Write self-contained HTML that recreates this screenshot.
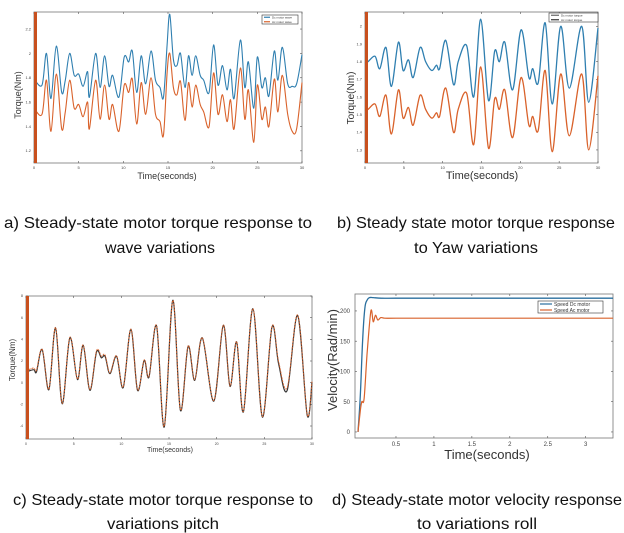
<!DOCTYPE html>
<html><head><meta charset="utf-8"><style>
html,body{margin:0;padding:0;background:#fff;}
svg{display:block;font-family:"Liberation Sans",sans-serif;}
</style></head><body>
<svg id="fig" width="624" height="533" viewBox="0 0 624 533">
<g id="pa"></g>
<g id="pb"></g>
<g id="pc"></g>
<g id="pd"></g>
<g font-size="16" fill="#111" text-anchor="middle">
<text x="158" y="228" textLength="308" lengthAdjust="spacingAndGlyphs">a) Steady-state motor torque response to</text>
<text x="160" y="253" textLength="110" lengthAdjust="spacingAndGlyphs">wave variations</text>
<text x="476" y="228" textLength="278" lengthAdjust="spacingAndGlyphs">b) Steady state motor torque response</text>
<text x="476" y="253" textLength="124" lengthAdjust="spacingAndGlyphs">to Yaw variations</text>
<text x="163" y="505" textLength="300" lengthAdjust="spacingAndGlyphs">c) Steady-state motor torque response to</text>
<text x="163" y="529" textLength="112" lengthAdjust="spacingAndGlyphs">variations pitch</text>
<text x="477" y="505" textLength="290" lengthAdjust="spacingAndGlyphs">d) Steady-state motor velocity response</text>
<text x="477" y="529" textLength="120" lengthAdjust="spacingAndGlyphs">to variations roll</text>
</g>
</svg>
<script>
// Panel a data
const aT=[0,0.9,1.4,1.9,2.5,3.1,3.5,4.0,4.5,5.0,5.5,6.0,6.2,6.9,7.4,7.9,8.4,8.8,9.5,10.1,10.6,11.0,11.5,12.0,12.5,13.1,13.6,14.1,14.5,14.9,15.2,15.6,16.0,16.4,16.9,17.3,17.7,18.1,18.6,19.0,19.6,20.1,20.6,21.1,21.6,22.0,22.4,23.1,23.6,24.0,24.6,25.0,25.5,25.9,26.3,26.9,27.3,27.8,28.4,28.9,29.4,30];
const aDc=[1.79,1.74,2.0,1.63,2.06,1.68,1.78,2.0,1.82,1.83,1.73,1.85,1.64,2.0,1.72,1.98,1.73,1.82,1.64,1.97,1.93,2.02,1.68,1.98,1.75,2.02,1.78,1.72,1.64,2.07,2.32,1.95,1.9,2.0,1.72,1.98,1.82,1.98,1.82,1.78,1.68,2.07,1.74,1.9,1.7,1.87,1.63,2.11,1.72,1.93,1.55,1.97,1.72,1.8,1.65,2.02,1.78,2.05,1.75,1.73,1.75,1.99];
const aAc=[1.55,1.5,1.78,1.36,1.83,1.38,1.52,1.78,1.55,1.58,1.48,1.6,1.38,1.78,1.46,1.74,1.46,1.58,1.36,1.74,1.68,1.79,1.42,1.76,1.5,1.8,1.5,1.44,1.33,1.84,2.0,1.72,1.66,1.77,1.45,1.76,1.56,1.74,1.58,1.52,1.4,1.84,1.5,1.66,1.44,1.62,1.38,1.88,1.46,1.7,1.27,1.74,1.46,1.56,1.4,1.79,1.52,1.82,1.5,1.36,1.38,1.76];
const aYTicks=[1.2,1.4,1.6,1.8,2,2.2];
const aXTicks=[0,5,10,15,20,25,30];
// Panel b data
const bT=[0,0.4,1.3,1.9,2.7,3.4,4.3,4.9,5.6,6.2,7.1,7.8,8.6,9.2,9.6,10.4,11.4,12.0,13.1,14.0,14.9,15.9,16.7,17.3,18.0,19.0,20.1,21.1,21.6,22.3,23.2,24.1,25.2,26.3,27.9,28.8,30];
const bDc=[1.79,1.80,1.83,1.76,1.88,1.66,1.91,1.75,1.81,1.71,1.88,1.80,1.75,1.78,1.76,1.92,1.67,1.80,1.89,1.60,2.04,1.58,1.86,1.80,1.91,1.64,1.98,1.71,1.76,1.68,2.02,1.56,2.0,1.65,2.0,1.57,1.99];
const bAc=[1.52,1.53,1.56,1.49,1.61,1.39,1.64,1.48,1.54,1.44,1.61,1.53,1.48,1.51,1.49,1.65,1.40,1.53,1.62,1.33,1.77,1.31,1.59,1.53,1.64,1.37,1.71,1.44,1.49,1.41,1.75,1.29,1.73,1.38,1.73,1.30,1.72];
const bYTicks=[1.3,1.4,1.5,1.6,1.7,1.8,1.9,2];
const bXTicks=[0,5,10,15,20,25,30];
// Panel c data
const cT=[0,0.8,1.1,1.7,2.4,3.1,3.8,4.6,5.4,6.0,6.7,7.4,7.9,8.3,8.8,9.5,10.2,11.0,11.7,12.4,12.9,13.7,14.5,15.4,16.2,17.0,17.7,18.5,19.7,20.7,21.4,22.1,22.8,23.8,24.8,25.8,26.5,27.4,28.5,29.5,30];
const cDc=[0.98,1.2,1.0,3.05,-0.65,5.05,-1.94,4.15,0.28,3.45,-0.7,2.83,2.3,2.43,0.83,2.43,-0.46,4.92,-0.7,2.06,0.52,5.23,-4.1,7.6,-2.55,3.35,0.22,4.12,-1.7,5.3,-0.34,3.75,-2.7,6.83,-3.17,5.14,1.75,-0.7,6.2,-3.0,0.06];
const cAc=[1.1,1.35,1.15,3.1,-0.6,5.1,-1.9,4.2,0.33,3.5,-0.65,2.95,2.45,2.55,0.9,2.5,-0.4,4.95,-0.65,2.1,0.57,5.27,-4.05,7.6,-2.5,3.4,0.27,4.15,-1.65,5.33,-0.3,3.8,-2.65,6.85,-3.12,5.2,1.95,-0.45,6.25,-2.95,0.1];
const cYTicks=[-4,-2,0,2,4,6,8];
const cXTicks=[0,5,10,15,20,25,30];
// Panel d data
const dT=[0,0.03,0.06,0.09,0.12,0.15,0.2,0.3,0.5,1,2,3,3.36];
const dDc=[0,60,150,205,218,222,222,221,221,221,221,221,221];
const dT2=[0,0.03,0.05,0.08,0.12,0.17,0.2,0.23,0.26,0.3,0.35,0.5,1,2,3,3.36];
const dAc=[0,35,50,55,130,200,182,193,185,189,188,188,188,188,188,188];
const dYTicks=[0,50,100,150,200];
const dXTicks=[0.5,1,1.5,2,2.5,3];

const NS='http://www.w3.org/2000/svg';
function mk(parent,tag,attrs){const e=document.createElementNS(NS,tag);for(const k in attrs)e.setAttribute(k,attrs[k]);parent.appendChild(e);return e;}
function smooth(pts){let d='M'+pts[0][0].toFixed(1)+','+pts[0][1].toFixed(1);
 for(let i=0;i<pts.length-1;i++){const p0=pts[Math.max(i-1,0)],p1=pts[i],p2=pts[i+1],p3=pts[Math.min(i+2,pts.length-1)];
 const c1=[p1[0]+(p2[0]-p0[0])/6,p1[1]+(p2[1]-p0[1])/6],c2=[p2[0]-(p3[0]-p1[0])/6,p2[1]-(p3[1]-p1[1])/6];
 d+='C'+c1[0].toFixed(1)+','+c1[1].toFixed(1)+' '+c2[0].toFixed(1)+','+c2[1].toFixed(1)+' '+p2[0].toFixed(1)+','+p2[1].toFixed(1);}
 return d;}
function panel(g,cfg){
 const {x0,x1,y0,y1,xmin,xmax,ymin,ymax}=cfg;
 const sx=v=>x0+(v-xmin)/(xmax-xmin)*(x1-x0);
 const sy=v=>y1-(v-ymin)/(ymax-ymin)*(y1-y0);
 const frame=mk(g,'rect',{x:x0,y:y0,width:x1-x0,height:y1-y0,fill:'#fff',stroke:'#777','stroke-width':0.8});
 
 
 cfg.xt.forEach(v=>{const X=sx(v);
  mk(g,'line',{x1:X,y1:y1,x2:X,y2:y1-2,stroke:'#555','stroke-width':0.6});
  mk(g,'line',{x1:X,y1:y0,x2:X,y2:y0+2,stroke:'#555','stroke-width':0.6});
  const t=mk(g,'text',{x:X,y:y1+cfg.xtOff,'font-size':cfg.tickFs,'text-anchor':'middle',fill:'#444'});t.textContent=v;
  
  });
 cfg.yt.forEach(v=>{const Y=sy(v);
  mk(g,'line',{x1:x0,y1:Y,x2:x0+2,y2:Y,stroke:'#555','stroke-width':0.6});
  mk(g,'line',{x1:x1,y1:Y,x2:x1-2,y2:Y,stroke:'#555','stroke-width':0.6});
  const t=mk(g,'text',{x:x0-cfg.ytOff,y:Y+cfg.tickFs*0.35,'font-size':cfg.tickFs,'text-anchor':'end',fill:'#444'});t.textContent=v;
  
  });
 cfg.series.forEach(s=>{const pts=s.t.map((tv,i)=>[sx(tv),sy(s.v[i])]);
  const p=mk(g,'path',{d:smooth(pts),fill:'none',stroke:s.c,'stroke-width':s.w||1,'stroke-dasharray':s.dash||'none','stroke-linejoin':'round'});
  
  });
 if(cfg.bar){const b=mk(g,'rect',{x:x0,y:y0,width:cfg.bar,height:y1-y0,fill:'#c8501e'});
  
  }
 const xl=mk(g,'text',{x:cfg.xlx,y:cfg.xly,'font-size':cfg.labFs,'text-anchor':'middle',fill:'#333'});xl.textContent='Time(seconds)';
 
 
 const yl=mk(g,'text',{x:0,y:0,'font-size':cfg.ylFs||cfg.labFs,'text-anchor':'middle',fill:'#333',transform:'translate('+cfg.ylx+','+cfg.yly+') rotate(-90)'});yl.textContent=cfg.ylabel;
 
 
 if(cfg.legend){const L=cfg.legend;
  const lg=mk(g,'g',{});
  
  
  mk(lg,'rect',{x:L.x,y:L.y,width:L.w,height:L.h,fill:'#fff',stroke:'#333','stroke-width':0.6});
  L.items.forEach((it,i)=>{const yy=L.y+L.h*(i+0.5)/L.items.length;
   mk(lg,'line',{x1:L.x+2,y1:yy,x2:L.x+L.lw,y2:yy,stroke:it.c,'stroke-width':1.2});
   const t=mk(lg,'text',{x:L.x+L.lw+2,y:yy+L.fs*0.35,'font-size':L.fs,fill:'#333'});t.textContent=it.label;
   
   });}
}
const BLUE='#2f7fb0',ORANGE='#d9622b';
panel(document.getElementById('pa'),{x0:34,x1:302,y0:12,y1:163,xmin:0,xmax:30,ymin:1.1,ymax:2.34,xt:aXTicks,yt:aYTicks,tickFs:4,xtOff:6,ytOff:3,labFs:9,
 series:[{t:aT,v:aDc,c:BLUE,w:1.1,name:'series-dc-motor'},{t:aT,v:aAc,c:ORANGE,w:1.1,name:'series-ac-motor'}],bar:3,
 xlx:167,xly:179,ylx:21,yly:95,ylabel:'Torque(Nm)',legend:{x:262,y:15,w:36,h:9,lw:8,fs:3,items:[{c:BLUE,label:'Dc motor wave'},{c:ORANGE,label:'Ac motor wave'}]}});
panel(document.getElementById('pb'),{x0:365,x1:598,y0:12,y1:163,xmin:0,xmax:30,ymin:1.226,ymax:2.081,xt:bXTicks,yt:bYTicks,tickFs:4,xtOff:6,ytOff:3,labFs:11,
 series:[{t:bT,v:bDc,c:BLUE,w:1.3,name:'series-dc-motor'},{t:bT,v:bAc,c:ORANGE,w:1.3,name:'series-ac-motor'}],bar:3,
 xlx:482,xly:179,ylx:354,yly:98,ylFs:10,ylabel:'Torque(Nm)',legend:{x:549,y:13,w:49,h:9,lw:10,fs:3,items:[{c:'#666',label:'Dc motor torque'},{c:'#333',label:'Ac motor torque'}]}});
panel(document.getElementById('pc'),{x0:26,x1:312,y0:296,y1:439,xmin:0,xmax:30,ymin:-5.2,ymax:8,xt:cXTicks,yt:cYTicks,tickFs:3.5,xtOff:6,ytOff:3,labFs:7,
 series:[{t:cT,v:cDc,c:'#333',w:1.2,name:'series-dc-motor'},{t:cT,v:cAc,c:ORANGE,w:0.9,dash:'2 1',name:'series-ac-motor'}],bar:3,
 xlx:170,xly:452,ylx:15,yly:360,ylFs:8,ylabel:'Torque(Nm)'});
panel(document.getElementById('pd'),{x0:355,x1:613,y0:294,y1:438,xmin:-0.04,xmax:3.36,ymin:-10,ymax:228,xt:dXTicks,yt:dYTicks,tickFs:6,xtOff:8,ytOff:5,labFs:13,
 series:[{t:dT,v:dDc,c:'#2a6f9e',w:1.3,name:'series-speed-dc'},{t:dT2,v:dAc,c:ORANGE,w:1.2,name:'series-speed-ac'}],
 xlx:487,xly:459,ylx:337,yly:360,ylFs:13,ylabel:'Velocity(Rad/min)',legend:{x:538,y:301,w:65,h:12,lw:14,fs:5,items:[{c:'#2a6f9e',label:'Speed Dc motor'},{c:ORANGE,label:'Speed Ac motor'}]}});
</script>
</body></html>
